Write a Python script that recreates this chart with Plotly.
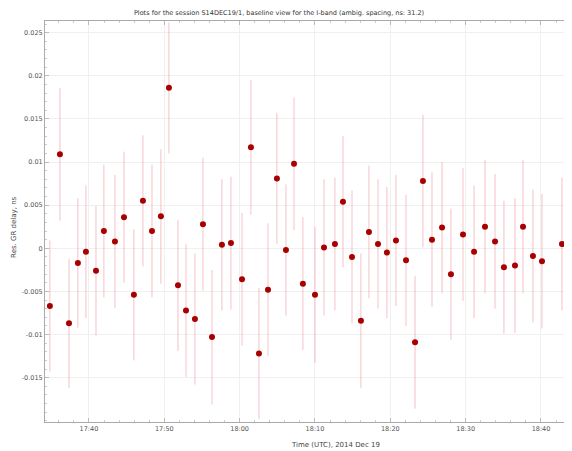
import plotly.graph_objects as go

times = [
    "17:34:49", "17:36:09", "17:37:21", "17:38:32", "17:39:36", "17:40:56", "17:41:59",
    "17:43:27", "17:44:39", "17:45:58", "17:47:10", "17:48:22", "17:49:33", "17:50:37",
    "17:51:49", "17:52:53", "17:54:04", "17:55:08", "17:56:20", "17:57:39", "17:58:51",
    "18:00:19", "18:01:30", "18:02:34", "18:03:46", "18:04:57", "18:06:09", "18:07:13",
    "18:08:24", "18:10:00", "18:11:12", "18:12:39", "18:13:43", "18:14:55", "18:16:06",
    "18:17:10", "18:18:22", "18:19:33", "18:20:45", "18:22:05", "18:23:17", "18:24:20",
    "18:25:32", "18:26:52", "18:28:03", "18:29:39", "18:31:07", "18:32:34", "18:33:54",
    "18:35:05", "18:36:33", "18:37:37", "18:38:56", "18:40:08", "18:42:47", "18:43:51",
]
residuals = [
    -0.0067, 0.0109, -0.0087, -0.0017, -0.0004, -0.0026, 0.0020,
    0.0008, 0.0036, -0.0054, 0.0055, 0.0020, 0.0037, 0.0186,
    -0.0043, -0.0072, -0.0082, 0.0028, -0.0103, 0.0004, 0.0006,
    -0.0036, 0.0117, -0.0122, -0.0048, 0.0081, -0.0002, 0.0098,
    -0.0041, -0.0054, 0.0001, 0.0005, 0.0054, -0.0010, -0.0084,
    0.0019, 0.0005, -0.0005, 0.0009, -0.0014, -0.0109, 0.0078,
    0.0010, 0.0024, -0.0030, 0.0016, -0.0004, 0.0025, 0.0008,
    -0.0022, -0.0020, 0.0025, -0.0009, -0.0015, 0.0005, 0.0004,
]
errors = [
    0.0076, 0.0077, 0.0075, 0.0075, 0.0077, 0.0075, 0.0077,
    0.0077, 0.0076, 0.0076, 0.0076, 0.0077, 0.0078, 0.0076,
    0.0076, 0.0077, 0.0076, 0.0077, 0.0078, 0.0076, 0.0077,
    0.0077, 0.0078, 0.0076, 0.0077, 0.0076, 0.0076, 0.0077,
    0.0077, 0.0079, 0.0079, 0.0077, 0.0076, 0.0077, 0.0078,
    0.0077, 0.0075, 0.0076, 0.0076, 0.0076, 0.0077, 0.0077,
    0.0078, 0.0076, 0.0076, 0.0077, 0.0077, 0.0077, 0.0078,
    0.0077, 0.0078, 0.0077, 0.0077, 0.0078, 0.0077, 0.0076,
]
date = "2014-12-19"
x_vals = [f"{date} {t}" for t in times]

y_ticks = [-0.015, -0.01, -0.005, 0, 0.005, 0.01, 0.015, 0.02, 0.025]
y_tick_text = ["-0.015", "-0.01", "-0.005", "0", "0.005", "0.01", "0.015", "0.02", "0.025"]

title_text = "Plots for the session S14DEC19/1, baseline view for the I-band (ambig. spacing, ns: 31.2)"
x_title = "Time (UTC), 2014 Dec 19"
y_title = "Res. GR delay, ns"

fig = go.Figure()
fig.add_trace(go.Scatter(
    x=x_vals, y=residuals, mode="markers",
    marker=dict(color="#a80000", size=6, line=dict(width=0)),
    error_y=dict(type="data", array=errors, visible=True, color="rgba(228,110,120,0.42)",
                 thickness=1, width=0),
    showlegend=False,
    cliponaxis=False,
))

font_family = "DejaVu Sans, sans-serif"
# page body has an 8px margin, so the figure is sized to fit the window
fig.update_layout(
    width=564, height=443,
    margin=dict(l=37, r=0, t=13, b=29, autoexpand=False),
    paper_bgcolor="white", plot_bgcolor="white",
    font=dict(family=font_family, size=6.5, color="#555"),
    title=dict(text=title_text, x=0.4805, xref="container", xanchor="center",
               y=0.989, yanchor="middle", font=dict(size=6.5, color="#333")),
    annotations=[
        dict(text=x_title, xref="paper", yref="paper", x=0.552, y=0, yshift=-23,
             xanchor="center", yanchor="middle", showarrow=False,
             font=dict(size=7, color="#444")),
        dict(text=y_title, xref="paper", yref="paper", x=0, y=0.484, xshift=-31,
             xanchor="center", yanchor="middle", textangle=-90, showarrow=False,
             font=dict(size=7, color="#444")),
    ],
)
fig.update_xaxes(
    automargin=False,
    range=[f"{date} 17:34:10", f"{date} 18:44:07"],
    tickformat="%H:%M", dtick=600000, tick0=f"{date} 17:40:00",
    showgrid=True, gridcolor="#f0f0f0", gridwidth=1,
    showline=True, linecolor="#aaa", linewidth=1, mirror="ticks",
    ticks="inside", ticklen=4, tickcolor="#bbb",
    minor=dict(ticks="inside", ticklen=2, dtick=120000, tickcolor="#ccc", showgrid=False),
    zeroline=False,
    tickfont=dict(size=6.5, color="#555"),
)
fig.update_yaxes(
    automargin=False,
    range=[-0.02014, 0.02635],
    tickvals=y_ticks, ticktext=y_tick_text,
    showgrid=True, gridcolor="#f0f0f0", gridwidth=1,
    showline=True, linecolor="#aaa", linewidth=1, mirror="ticks",
    ticks="inside", ticklen=4, tickcolor="#bbb",
    minor=dict(ticks="inside", ticklen=2, dtick=0.001, tickcolor="#ccc", showgrid=False),
    zeroline=False,
    tickfont=dict(size=6.5, color="#555"),
)

fig.write_html("out.html")
